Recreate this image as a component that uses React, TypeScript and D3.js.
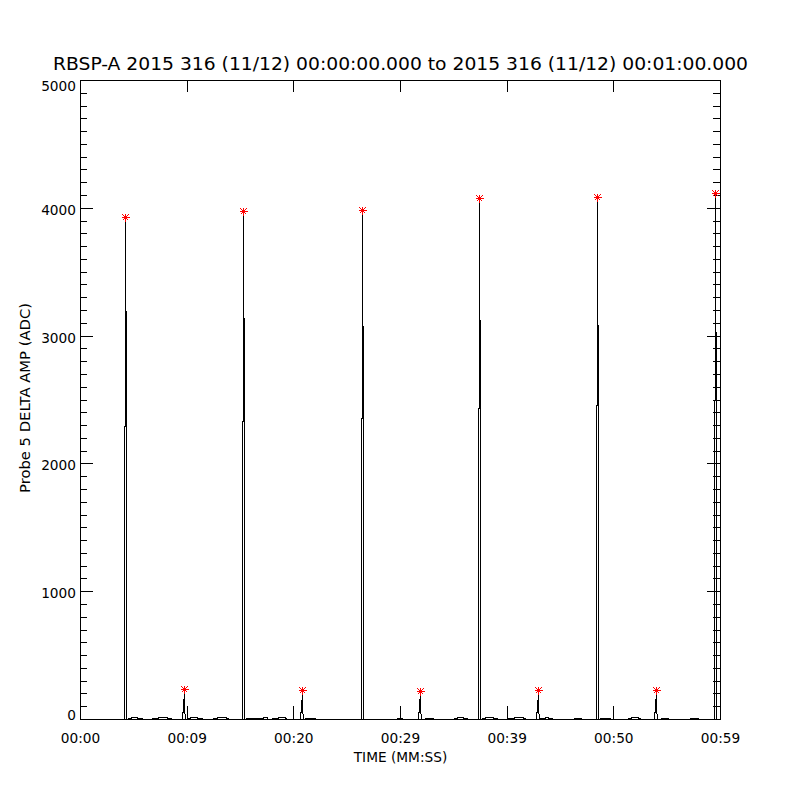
import React, { useEffect, useRef } from "react";
import * as d3 from "d3";

// Title and axis labels
const titleText =
  "RBSP-A 2015 316 (11/12) 00:00:00.000 to 2015 316 (11/12) 00:01:00.000";
const xAxisTitle = "TIME (MM:SS)";
const yAxisTitle = "Probe 5 DELTA AMP (ADC)";

// Tick values and labels
const xTickValues = [0, 10, 20, 30, 40, 50, 60];
const xTickLabels = ["00:00", "00:09", "00:20", "00:29", "00:39", "00:50", "00:59"];
const yTickValues = [0, 1000, 2000, 3000, 4000, 5000];

// Samples [seconds, ADC], one array per pulse cycle
const cycle1: [number, number][] = [
  [0, 0],
  [4.125, 0], [4.125, 2290], [4.219, 2290], [4.219, 3930], [4.219, 3190], [4.313, 3190], [4.313, 0],
  [4.48, 0], [4.5, 8], [4.78, 8], [4.8, 16], [5.32, 16], [5.34, 8], [5.81, 8], [5.83, 0],
  [6.73, 0], [6.75, 8], [7.31, 8], [7.33, 16], [8.14, 16], [8.16, 8], [8.53, 8], [8.55, 0],
  [9.563, 0], [9.563, 50], [9.656, 60], [9.656, 150], [9.75, 160], [9.75, 232], [9.75, 50], [9.844, 40], [9.844, 0],
  [10.11, 0], [10.13, 8], [10.31, 8], [10.33, 16], [10.95, 16], [10.97, 8], [11.44, 8], [11.46, 0],
  [12.45, 0], [12.47, 8], [12.84, 8], [12.86, 16], [13.67, 16], [13.69, 8], [13.88, 8], [13.9, 0],
];
const cycle2: [number, number][] = [
  [15.188, 0], [15.188, 2330], [15.281, 2330], [15.281, 3975], [15.281, 3140], [15.375, 3140], [15.375, 0],
  [15.54, 0], [15.56, 8], [17.14, 8], [17.16, 16], [17.5, 16], [17.53, 8], [17.55, 0],
  [17.98, 0], [18.0, 8], [18.56, 8], [18.58, 16], [19.2, 16], [19.22, 8], [19.31, 8], [19.33, 0],
  [20.625, 0], [20.625, 50], [20.719, 60], [20.719, 150], [20.813, 160], [20.813, 226], [20.813, 50], [20.906, 40], [20.906, 0],
  [21.08, 0], [21.1, 8], [22.03, 8], [22.05, 0],
];
const cycle3: [number, number][] = [
  [26.344, 0], [26.344, 2355], [26.438, 2355], [26.438, 3985], [26.438, 3075], [26.531, 3075], [26.531, 0],
  [29.7, 0], [29.72, 8], [30.19, 8], [30.21, 0],
  [31.688, 0], [31.688, 50], [31.781, 60], [31.781, 150], [31.875, 160], [31.875, 219], [31.875, 50], [31.969, 40], [31.969, 0],
  [32.32, 0], [32.34, 8], [33.09, 8], [33.11, 0],
  [35.04, 0], [35.06, 8], [35.34, 8], [35.36, 16], [35.89, 16], [35.91, 8], [36.28, 8], [36.3, 0],
];
const cycle4: [number, number][] = [
  [37.313, 0], [37.313, 2430], [37.406, 2430], [37.406, 4075], [37.406, 3120], [37.5, 3120], [37.5, 0],
  [37.67, 0], [37.69, 8], [37.97, 8], [37.99, 16], [38.7, 16], [38.72, 8], [39.09, 8], [39.11, 0],
  [40.11, 0], [40.13, 8], [40.69, 8], [40.71, 16], [41.51, 16], [41.53, 8], [41.72, 8], [41.74, 0],
  [42.75, 0], [42.75, 50], [42.844, 60], [42.844, 150], [42.938, 160], [42.938, 224], [42.938, 50], [43.031, 40], [43.031, 0],
  [43.11, 0], [43.13, 8], [43.59, 8], [43.61, 16], [43.86, 16], [43.88, 8], [44.25, 8], [44.27, 0],
  [46.29, 0], [46.31, 8], [46.97, 8], [46.99, 0],
];
const cycle5: [number, number][] = [
  [48.375, 0], [48.375, 2455], [48.469, 2455], [48.469, 4085], [48.469, 3080], [48.563, 3080], [48.563, 0],
  [48.73, 0], [48.75, 8], [49.69, 8], [49.71, 0],
  [51.36, 0], [51.38, 8], [51.66, 8], [51.68, 16], [52.29, 16], [52.31, 8], [52.5, 8], [52.52, 0],
  [53.813, 0], [53.813, 50], [53.906, 60], [53.906, 150], [54.0, 160], [54.0, 226], [54.0, 50], [54.094, 40], [54.094, 0],
  [54.45, 0], [54.47, 8], [55.13, 8], [55.15, 0],
  [57.17, 0], [57.19, 8], [57.94, 8], [57.96, 0],
];
const cycle6: [number, number][] = [
  [59.438, 0], [59.438, 2500], [59.531, 2500], [59.531, 4115], [59.531, 3030], [59.625, 3030], [59.625, 0],
  [60, 0],
];

// Detected peaks (red asterisks)
const peakTimes = [4.219, 9.75, 15.281, 20.813, 26.438, 31.875, 37.406, 42.938, 48.469, 54.0, 59.531];
const peakValues = [3930, 232, 3975, 226, 3985, 219, 4075, 224, 4085, 226, 4115];

const App = () => {
  const ref = useRef<SVGSVGElement | null>(null);

  useEffect(() => {
    if (!ref.current) return;
    const svg = d3.select(ref.current);
    svg.selectAll("*").remove();

    const left = 80, right = 720, top = 80, bottom = 719;
    const font = "DejaVu Sans, Verdana, sans-serif";

    const x = d3.scaleLinear().domain([0, 60]).range([left, right]);
    const y = d3.scaleLinear().domain([0, 5000]).range([bottom, top]);

    svg.append("rect").attr("width", 800).attr("height", 800).attr("fill", "#fff");

    // title
    svg.append("text")
      .attr("x", 400.5).attr("y", 70)
      .attr("text-anchor", "middle")
      .attr("font-family", font).attr("font-size", 18.5)
      .attr("textLength", 695).attr("lengthAdjust", "spacingAndGlyphs")
      .text(titleText);

    // minor y ticks every 100
    const yMinor = d3.range(0, 5001, 100).filter(v => v % 1000 !== 0);

    const styleAxis = (g: any) => {
      g.select(".domain").remove();
      g.selectAll("line").attr("stroke", "#000").attr("shape-rendering", "crispEdges");
      g.selectAll("text").attr("font-family", font).attr("font-size", 13.7).attr("fill", "#000");
    };

    svg.append("g").attr("transform", `translate(${left},0)`)
      .call(d3.axisLeft(y).tickValues(yMinor).tickSize(-7).tickSizeOuter(0).tickFormat(() => ""))
      .call(styleAxis);
    svg.append("g").attr("transform", `translate(${right},0)`)
      .call(d3.axisRight(y).tickValues(yMinor).tickSize(-7).tickSizeOuter(0).tickFormat(() => ""))
      .call(styleAxis);
    svg.append("g").attr("transform", `translate(${right},0)`)
      .call(d3.axisRight(y).tickValues(yTickValues).tickSize(-13).tickSizeOuter(0).tickFormat(() => ""))
      .call(styleAxis);

    const yAxis = svg.append("g").attr("transform", `translate(${left},0)`)
      .call(d3.axisLeft(y).tickValues(yTickValues).tickSize(-13).tickSizeOuter(0).tickPadding(4)
        .tickFormat(d3.format("d")))
      .call(styleAxis);
    yAxis.selectAll("text")
      .attr("dy", null)
      .attr("y", (d: any) => (d === 0 ? 0 : d === 5000 ? 10.5 : 6.5));

    const xAxis = svg.append("g").attr("transform", `translate(0,${bottom})`)
      .call(d3.axisBottom(x).tickValues(xTickValues).tickSize(-13).tickSizeOuter(0)
        .tickFormat((_d: any, i: number) => xTickLabels[i]))
      .call(styleAxis);
    xAxis.selectAll("text").attr("dy", null).attr("y", 24);

    svg.append("g").attr("transform", `translate(0,${top})`)
      .call(d3.axisTop(x).tickValues(xTickValues).tickSize(-12).tickSizeOuter(0).tickFormat(() => ""))
      .call(styleAxis);

    // frame
    svg.append("rect")
      .attr("x", left + 0.5).attr("y", top + 0.5)
      .attr("width", right - left).attr("height", bottom - top)
      .attr("fill", "none").attr("stroke", "#000").attr("shape-rendering", "crispEdges");

    // axis titles
    svg.append("text")
      .attr("x", 400.5).attr("y", 762)
      .attr("text-anchor", "middle")
      .attr("font-family", font).attr("font-size", 13.7)
      .text(xAxisTitle);
    svg.append("text")
      .attr("transform", "translate(30,398) rotate(-90)")
      .attr("text-anchor", "middle")
      .attr("font-family", font).attr("font-size", 13.7)
      .attr("textLength", 190).attr("lengthAdjust", "spacingAndGlyphs")
      .text(yAxisTitle);

    // data line
    const series = [...cycle1, ...cycle2, ...cycle3, ...cycle4, ...cycle5, ...cycle6];
    const line = d3.line<[number, number]>().x(d => x(d[0])).y(d => y(d[1]));
    svg.append("path")
      .datum(series)
      .attr("transform", "translate(0.5,0.5)")
      .attr("d", line)
      .attr("fill", "none")
      .attr("stroke", "#000")
      .attr("stroke-width", 1)
      .attr("shape-rendering", "crispEdges");

    // asterisks at peaks
    const star = "M-4,0H4M0,-4V4M-3,-3L3,3M-3,3L3,-3";
    svg.append("g")
      .selectAll("path")
      .data(peakTimes.map((t, i) => [t, peakValues[i]]))
      .join("path")
      .attr("transform", d => `translate(${Math.round(x(d[0])) + 0.5},${Math.round(y(d[1])) + 0.5})`)
      .attr("d", star)
      .attr("fill", "none")
      .attr("stroke", "#ff0000")
      .attr("stroke-width", 1)
      .attr("shape-rendering", "crispEdges");
  }, []);

  return (
    <svg
      ref={ref}
      width={800}
      height={800}
      style={{ position: "absolute", left: 0, top: 0 }}
    />
  );
};

export default App;
